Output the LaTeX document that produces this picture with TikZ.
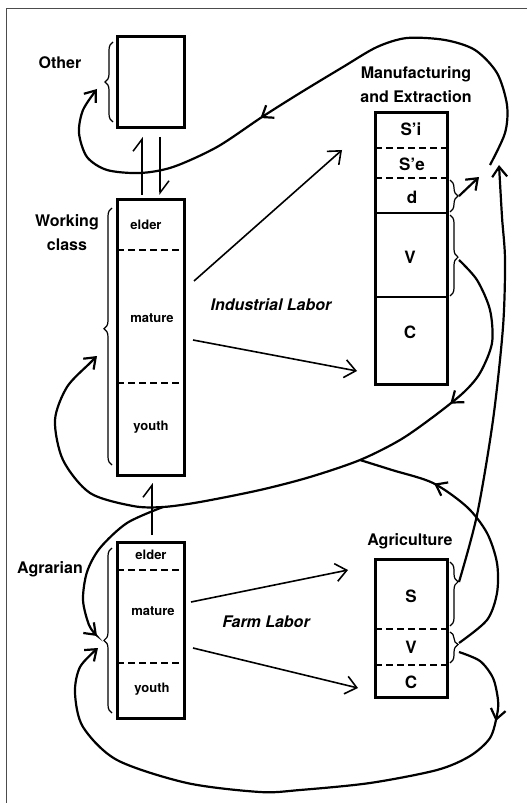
\documentclass[tikz,border=0pt]{standalone}
\usepackage{fontspec}
\setmainfont{TeX Gyre Heros}
\usetikzlibrary{arrows.meta,decorations.pathreplacing,decorations.markings}

\tikzset{
	sector/.style={draw, line width=3pt, outer sep=0pt, inner sep=0pt, minimum width=67pt},
	solidsep/.style={line width=2pt},
	dashsep/.style={line width=2pt, dash pattern=on 7pt off 4pt},
	title/.style={font=\fontsize{16}{24}\selectfont\bfseries, align=center},
	labortext/.style={font=\fontsize{16}{19}\selectfont\bfseries\itshape},
	cohort/.style={font=\fontsize{13}{16}\selectfont\bfseries},
	part/.style={font=\fontsize{17}{19}\selectfont\bfseries},
	labor/.style={line width=1.6pt, -{Straight Barb[length=11pt,width=18pt]}},
	flow/.style={line width=2.2pt},
	flowtip/.style={-{Straight Barb[length=10pt,width=15pt]}},
	midtip/.style={postaction={decorate}, decoration={markings,
		mark=at position #1 with {\arrow{Straight Barb[length=10pt,width=15pt]}}}},
	harpoon/.style={line width=1.5pt, -{Straight Barb[left,length=12pt,width=18pt]}},
	bracket/.style={line width=1.2pt, decorate, decoration={brace, amplitude=8pt, aspect=#1}},
}

\begin{document}
\begin{tikzpicture}[x=1pt, y=-1pt]
	\useasboundingbox (0,0) rectangle (527,810);
	\draw[gray!60!black, line width=1pt] (527,9) -- (6,9) -- (6,803);

	% boxes
	\node[sector, minimum height=91pt] (other) at (150.5,82.5) {};
	\node[sector, minimum height=275pt] (wc) at (150.5,337.5) {};
	\node[sector, minimum height=176pt] (agr) at (150.5,630) {};
	\node[sector, minimum width=72pt, minimum height=271pt] (mfg) at (411,248.5) {};
	\node[sector, minimum width=72pt, minimum height=138pt] (agri) at (411,628) {};

	\draw[dashsep] (wc.west |- 0,250) -- (wc.east |- 0,250);
	\draw[dashsep] (wc.west |- 0,383) -- (wc.east |- 0,383);
	\draw[dashsep] (agr.west |- 0,570) -- (agr.east |- 0,570);
	\draw[dashsep] (agr.west |- 0,663) -- (agr.east |- 0,663);
	\draw[dashsep] (mfg.west |- 0,148) -- (mfg.east |- 0,148);
	\draw[dashsep] (mfg.west |- 0,178) -- (mfg.east |- 0,178);
	\draw[solidsep] (mfg.west |- 0,213) -- (mfg.east |- 0,213);
	\draw[solidsep] (mfg.west |- 0,297) -- (mfg.east |- 0,297);
	\draw[dashsep] (agri.west |- 0,629) -- (agri.east |- 0,629);
	\draw[dashsep] (agri.west |- 0,665) -- (agri.east |- 0,665);

	% braces
	\draw[bracket=0.5] (113,122) -- (113,42);
	\draw[bracket=0.53] (112,465) -- (112,208);
	\draw[bracket=0.44] (112,713) -- (112,548);
	\draw[bracket=0.5] (450,180) -- (450,212);
	\draw[bracket=0.52] (450,215) -- (450,296);
	\draw[bracket=0.31] (450,562) -- (450,626);
	\draw[bracket=0.4] (450,632) -- (450,663);

	\coordinate (otherHead) at (97,89);
	\coordinate (wcHead) at (97,356);
	\coordinate (agrHeadA) at (97,636);
	\coordinate (agrHeadB) at (98,648);
	\coordinate (dTip) at (459,196);
	\coordinate (dHead) at (479,177);
	\coordinate (vTip) at (459,260);
	\coordinate (sTip) at (459,582);
	\coordinate (sHead) at (499,165);
	\coordinate (agriVTip) at (459,643);
	\coordinate (agriVTipB) at (459,652);
	\coordinate (loopFoot) at (490,165);
	\coordinate (merge) at (360,460);
	\coordinate (split) at (163,507);

	% labor
	\coordinate (wcOutA) at (194,281);
	\coordinate (mfgInA) at (342,150);
	\coordinate (wcOutB) at (193,340);
	\coordinate (mfgInB) at (357,371);
	\coordinate (agrOutA) at (191,602);
	\coordinate (agriInA) at (348,570);
	\coordinate (agrOutB) at (193,648);
	\coordinate (agriInB) at (358,688);
	\draw[labor] (wcOutA) -- (mfgInA);
	\draw[labor] (wcOutB) -- (mfgInB);
	\draw[labor] (agrOutA) -- (agriInA);
	\draw[labor] (agrOutB) -- (agriInB);

	\draw[harpoon] ([xshift=-8.5pt,yshift=5pt]wc.north) -- ([xshift=-8.5pt,yshift=-9pt]other.south);
	\draw[harpoon] ([xshift=9.5pt,yshift=-9pt]other.south) -- ([xshift=9.5pt,yshift=5pt]wc.north);
	\draw[harpoon] ([xshift=1.5pt,yshift=7pt]agr.north) -- ([xshift=1.5pt,yshift=-8pt]wc.south);

	% flows
	\draw[flow, flowtip] (dTip) -- (dHead);
	\draw[flow, flowtip] plot[smooth] coordinates {(sTip) (477,515) (493,420) (503,327) (505,260) (502,217) (sHead)};
	\draw[flow, flowtip, midtip=0.58] plot[smooth] coordinates {(loopFoot) (505,133) (507,105) (497,73) (475,50) (445,40) (407,38) (377,47) (343,67) (300,93) (262,117) (217,147) (173,167) (140,173) (107,170) (87,157) (79,133) (83,110) (otherHead)};
	\draw[flow, flowtip, midtip=0.235] plot[smooth] coordinates {(vTip) (477,280) (490,310) (492,343) (480,373) (463,393) (433,417) (400,440) (merge) (310,477) (260,490) (200,502) (split) (133,506) (90,493) (63,460) (55,420) (67,387) (90,363) (wcHead)};
	\draw[flow, midtip=0.72] plot[smooth] coordinates {(agriVTip) (487,620) (497,593) (497,563) (487,533) (467,507) (433,483) (392,470) (merge)};
	\draw[flow, flowtip] plot[smooth] coordinates {(split) (127,523) (100,548) (87,572) (83,600) (89,625) (agrHeadA)};
	\draw[flow, flowtip, midtip=0.14] plot[smooth] coordinates {(agriVTipB) (480,661) (493,678) (498,700) (497,715) (490,738) (470,756) (437,770) (370,783) (300,790) (260,792) (187,783) (117,760) (83,727) (75,693) (80,667) (agrHeadB)};

	% labels
	\node[title] (otherLbl) at (60,63) {Other};
	\node[title] (wcLbl) at (67,233) {Working\\class};
	\node[title] (agrLbl) at (50,569) {Agrarian};
	\node[title] (mfgLbl) at (416,85) {Manufacturing\\and Extraction};
	\node[title] (agriLbl) at (410,541) {Agriculture};
	\node[labortext] (indLbl) at (271,305) {Industrial Labor};
	\node[labortext] (farmLbl) at (266,622) {Farm Labor};

	\node[cohort] (wcElder) at (146,225) {elder};
	\node[cohort] (wcMature) at (152,318) {mature};
	\node[cohort] (wcYouth) at (151,427) {youth};
	\node[cohort] (agrElder) at (151,555) {elder};
	\node[cohort] (agrMature) at (153,611) {mature};
	\node[cohort] (agrYouth) at (152,689) {youth};

	\node[part] (mfgSi) at (411,129) {S'i};
	\node[part] (mfgSe) at (412,164) {S'e};
	\node[part] (mfgD) at (412,197) {d};
	\node[part] (mfgV) at (410,257) {V};
	\node[part] (mfgC) at (410,332) {C};
	\node[part] (agriS) at (411,596) {S};
	\node[part] (agriV) at (411,647) {V};
	\node[part] (agriC) at (411,682) {C};
\end{tikzpicture}
\end{document}
